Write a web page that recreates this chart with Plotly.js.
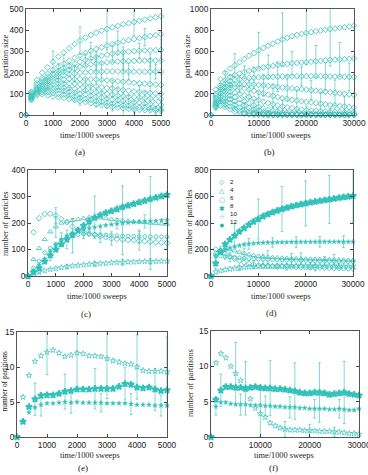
<!DOCTYPE html>
<html><head><meta charset="utf-8">
<script src="https://cdn.plot.ly/plotly-3.0.1.min.js"></script>
<style>html,body{margin:0;padding:0;background:#fff}#chart{width:368px;height:475px}</style>
</head><body><div id="chart"></div>
<script>
// ---------- x grids ----------
const xShort = [0,200,400,600,800,1000,1200,1400,1600,1800,2000,2200,2400,2600,2800,3000,3200,3400,3600,3800,4000,4200,4400,4600,4800,5000];
const xLong = [0,1000,2000,3000,4000,5000,6000,7000,8000,9000,10000,11000,12000,13000,14000,15000,16000,17000,18000,19000,20000,21000,22000,23000,24000,25000,26000,27000,28000,29000,30000];

// ---------- panel (a): partition sizes, short run ----------
const a1 = [0,110,165,200,225,252,276,296,315,336,352,366,378,389,399,407,415,421,429,434,440,446,451,457,462,467];
const a2 = [0,105,150,175,195,212,228,243,257,270,282,293,303,312,320,328,335,342,348,354,359,364,369,374,378,382];
const a3 = [0,100,140,165,180,195,208,220,232,242,252,260,267,274,280,285,290,294,297,300,302,304,305,306,307,308];
const a4 = [0,95,130,155,170,183,195,205,213,220,228,234,239,243,246,249,251,253,254,255,256,257,257,258,258,258];
const a5 = [0,90,125,145,160,172,180,187,192,196,200,202,204,205,205,206,206,206,206,206,205,205,205,205,205,205];
const a6 = [0,88,120,138,150,160,165,168,170,170,170,170,169,168,166,164,162,160,157,155,152,150,148,146,144,142];
const a7 = [0,85,115,130,140,145,148,149,149,148,145,142,139,136,132,128,125,122,118,115,112,109,106,104,102,100];
const a8 = [0,82,110,122,128,130,130,129,127,124,120,116,112,108,104,100,96,92,89,86,84,82,80,78,76,75];
const a9 = [0,78,105,115,118,118,117,114,110,106,100,96,91,86,82,78,74,70,66,63,60,57,54,52,50,47];
const a10 = [0,75,100,108,108,104,100,96,91,86,81,76,71,66,62,58,54,50,46,43,40,37,34,31,29,27];
const a11 = [0,70,93,98,93,88,84,80,76,71,66,61,56,51,47,43,39,35,32,29,27,25,23,22,21,20];
// error bars: [time, half-width]
const aErr = [
  [[1000,50],[2000,65],[3000,100],[4000,65]],
  [[1400,40],[2400,40],[3400,55],[4400,40]],
  [[1200,35],[2200,30],[3200,40],[4200,35],[5000,50]],
  [[1600,30],[2600,35],[3600,45],[4600,30]],
  [[1800,40],[2800,45],[3800,40],[4800,35]],
  [[800,25],[2600,130],[3600,165],[4600,120]],
  [[1200,25],[2200,30],[3200,40],[4200,30]],
  [[1400,25],[2400,30],[3400,35],[4400,30]],
  [[1600,20],[2800,30],[3800,30],[5000,25]],
  [[1800,20],[3000,25],[4000,25]],
  [[2000,20],[3200,20],[4800,20]]
];

// ---------- panel (b): partition sizes, long run ----------
const b1 = [0,240,340,400,440,470,500,530,560,585,612,635,655,675,695,715,730,745,757,767,776,784,792,799,806,812,818,824,831,838,845];
const b2 = [0,200,280,330,360,378,392,405,417,428,440,450,458,466,473,479,484,489,493,497,500,504,508,512,516,520,523,526,529,532,535];
const b3 = [0,180,260,300,320,330,338,344,350,353,356,358,360,361,362,363,364,365,366,366,367,367,366,366,365,364,363,362,361,360,360];
const b4 = [0,160,240,270,285,290,292,292,290,288,285,280,275,270,265,260,255,251,247,244,240,235,230,225,220,215,210,205,200,195,190];
const b5 = [0,140,220,250,260,262,258,250,240,228,215,203,192,180,170,160,152,144,137,130,124,118,112,106,100,95,90,85,80,75,70];
const b6 = [0,125,200,220,220,212,200,186,170,155,140,126,113,101,90,80,71,63,56,50,45,41,38,35,33,31,29,28,27,26,25];
const b7 = [0,110,170,190,185,170,150,130,110,92,76,62,50,40,32,26,21,17,14,12,10,9,8,8,7,7,7,6,6,6,6];
const b8 = [0,100,150,160,150,130,108,86,66,50,37,27,20,15,11,8,6,5,4,3,3,2,2,2,2,2,2,2,2,2,2];
const b9 = [0,90,130,130,115,92,70,51,36,25,17,11,7,5,3,2,2,1,1,1,1,1,1,1,1,1,1,1,1,1,1];
const b10 = [0,80,110,100,80,58,40,26,16,10,6,4,2,1,1,1,0,0,0,0,0,0,0,0,0,0,0,0,0,0,0];
const b11 = [0,70,90,75,52,32,18,10,5,3,2,1,0,0,0,0,0,0,0,0,0,0,0,0,0,0,0,0,0,0,0];
const bErr = [
  [[5000,110],[10000,170],[15000,250],[20000,300],[25000,350]],
  [[3000,80],[7000,60],[12000,110],[17000,110],[22000,150],[27000,160]],
  [[4000,60],[9000,100],[14000,140],[19000,90],[24000,130],[29000,130]],
  [[6000,80],[11000,100],[16000,120],[21000,90],[26000,120]],
  [[2000,80],[8000,90],[13000,110],[18000,100],[23000,110],[28000,90]],
  [[4000,60],[10000,80],[15000,60],[20000,40],[25000,30]],
  [[3000,50],[9000,50],[14000,30],[21000,20]],
  [[2000,40],[7000,30],[12000,20]],
  [[1000,40],[5000,30]],
  [[3000,30]],
  []
];

// ---------- panel (c),(d): number of particles per species ----------
const species = ['2','4','6','8','10','12'];
const c2 = [0,165,218,234,235,228,215,203,186,175,166,160,155,150,146,142,140,138,136,135,133,131,129,127,126,125];
const c4 = [0,63,104,138,167,186,200,205,210,214,218,221,222,220,217,214,212,210,208,206,204,202,200,199,197,196];
const c6 = [0,30,55,88,105,120,135,146,152,156,158,158,157,156,155,153,152,151,150,150,149,149,148,148,148,148];
const c8 = [0,20,40,65,92,118,138,152,162,169,175,180,184,188,191,194,197,199,201,203,205,206,207,208,210,211];
const c10 = [0,10,15,20,25,28,32,35,38,40,42,44,46,47,48,50,51,52,53,53,54,55,55,55,56,56];
const c12 = [0,15,30,55,78,100,120,138,155,172,190,206,220,230,238,245,252,260,266,272,278,284,290,296,301,306];
const cErr = [
  [[1000,30],[2000,25],[3000,25],[4000,35],[5000,20]],
  [[1000,40],[2400,80],[3400,130],[4400,175]],
  [[1600,65],[2600,30],[4000,25]],
  [[1200,25],[2200,20],[3200,20],[4200,25]],
  [[1400,8],[2400,10],[3400,12],[4400,10]],
  [[400,20],[800,20],[1400,35],[2200,15]]
];
const d2 = [0,200,190,168,148,130,115,102,92,85,80,77,75,73,72,71,70,69,68,67,66,65,64,63,62,61,60,59,58,57,56];
const d4 = [0,175,195,205,200,190,180,170,162,155,150,146,143,140,138,136,134,132,131,130,129,128,127,126,125,124,123,122,121,120,120];
const d6 = [0,150,150,146,143,140,137,134,131,129,127,125,124,123,122,121,120,119,118,117,116,115,114,113,112,111,110,110,109,108,108];
const d8 = [0,150,180,200,212,222,230,237,242,246,249,251,252,253,254,255,255,256,256,257,257,257,257,258,258,258,258,258,258,258,258];
const d10 = [0,30,40,47,53,58,62,65,68,70,72,73,74,75,75,76,76,76,76,76,76,76,76,75,75,75,75,75,74,74,74];
const d12 = [0,95,180,240,275,305,335,362,387,410,430,450,466,480,493,505,515,525,533,541,548,555,561,567,573,578,584,590,595,600,605];
const dErr = [
  [[3000,40],[9000,30],[16000,25],[22000,25]],
  [[2000,30],[7000,40],[12000,50],[19000,45],[26000,40]],
  [[4000,35],[11000,35],[17000,50],[24000,35]],
  [[8000,40],[13000,35],[18000,40],[23000,40],[28000,45]],
  [[6000,20],[14000,20],[21000,25],[27000,20]],
  [[1000,40],[5000,90],[10000,150],[15000,170],[20000,170],[25000,180],[30000,200]]
];

// ---------- panel (e),(f): number of partitions ----------
const eOpen = [0,5.7,8.8,10.8,11.6,12.1,12.4,12.0,11.5,11.7,12.0,11.9,11.6,11.6,11.5,11.2,10.9,10.7,10.5,10.4,10.0,9.5,9.4,9.4,9.4,9.3];
const eBig = [0,2.2,4.3,5.4,5.9,6.0,6.0,6.2,6.5,6.6,6.8,6.8,6.8,6.9,6.9,6.9,6.9,7.2,7.6,7.5,7.1,7.0,7.1,6.8,6.6,6.7];
const eSmall = [0,2.1,3.5,4.2,4.6,4.8,4.8,4.9,5.0,4.9,5.0,4.9,4.9,4.9,4.9,4.8,4.8,4.8,4.8,4.7,4.6,4.6,4.6,4.5,4.5,4.5];
const eErr = [
  [[1000,3.2],[2000,4.8],[3000,5.7],[4000,4.6],[5000,5]],
  [[600,2.3],[1600,2.5],[2600,2.9],[3600,2.3],[4600,3]],
  [[800,1.6],[1800,1.5],[2800,1.3],[3800,1.5],[4800,1.5]]
];
const fOpen = [0,10.5,11.8,11.2,10.0,9.0,8.0,6.7,5.4,4.1,3.3,2.8,2.0,1.6,1.3,1.1,1.0,1.0,1.0,0.9,0.9,0.9,0.8,0.8,0.8,0.7,0.7,0.6,0.5,0.5,0.4];
const fBig = [0,5.3,6.6,7.1,7.1,7.0,7.0,6.9,7.0,7.1,7.0,6.9,6.9,6.8,6.8,6.7,6.6,6.5,6.3,6.2,6.2,6.3,6.3,6.2,6.0,6.1,6.2,6.3,6.1,6.0,5.9];
const fSmall = [0,4.3,4.9,4.9,4.7,4.6,4.6,4.6,4.5,4.5,4.5,4.4,4.4,4.3,4.3,4.2,4.2,4.2,4.1,4.1,4.0,4.0,4.0,4.0,3.9,3.9,4.0,3.9,3.8,3.8,4.0];
const fErr = [
  [[5000,4.4],[10000,3.3],[15000,1.1],[20000,0.9],[25000,0.7]],
  [[2000,2.3],[7000,3.8],[12000,3.9],[17000,4.0],[22000,4.2],[27000,4.4]],
  [[1000,1.2],[6000,1.5],[11000,1.4],[16000,1.5],[21000,1.3],[26000,1.3]]
];

// ---------- styling ----------
const C = '#33c2ba';
const CE = 'rgba(51,194,186,0.6)';
const SERIF = 'Liberation Serif, DejaVu Serif, serif';
const SANS = 'Liberation Sans, Arial, sans-serif';

function errArr(xs, pairs){
  const m = new Map(pairs);
  return xs.map(x => m.has(x) ? m.get(x) : NaN);
}
const sym = {
  dia:   {symbol:'diamond-open', size:4.4, color:C, line:{width:0.8, color:C}},
  tri:   {symbol:'triangle-up-open', size:4.6, color:C, line:{width:0.8, color:C}},
  circ:  {symbol:'circle-open', size:3.8, color:C, line:{width:0.8, color:C}},
  small: {symbol:'star', size:3.6, color:C, line:{width:0.5, color:C}},
  ostar: {symbol:'star-open', size:4.3, color:C, line:{width:0.7, color:C}},
  big:   {symbol:'star', size:4.8, color:C, line:{width:1.7, color:C}}
};
const traces = [];
function add(xs, ys, errs, marker, xa, ya){
  traces.push({type:'scatter', mode:'markers', x:xs, y:ys, xaxis:xa, yaxis:ya,
    marker:marker, cliponaxis:false, showlegend:false, hoverinfo:'skip',
    error_y:{type:'data', array:errArr(xs, errs), color:CE, thickness:1, width:1.5}});
}
[a1,a2,a3,a4,a5,a6,a7,a8,a9,a10,a11].forEach((s,i)=>add(xShort, s, aErr[i], sym.dia, 'x', 'y'));
[b1,b2,b3,b4,b5,b6,b7,b8,b9,b10,b11].forEach((s,i)=>add(xLong, s, bErr[i], sym.dia, 'x2', 'y2'));
const specSyms = [sym.dia, sym.tri, sym.circ, sym.small, sym.ostar, sym.big];
[c2,c4,c6,c8,c10,c12].forEach((s,i)=>add(xShort, s, cErr[i], specSyms[i], 'x3', 'y3'));
[d2,d4,d6,d8,d10,d12].forEach((s,i)=>add(xLong, s, dErr[i], specSyms[i], 'x4', 'y4'));
[eOpen,eBig,eSmall].forEach((s,i)=>add(xShort, s, eErr[i], [sym.ostar, sym.big, sym.small][i], 'x5', 'y5'));
[fOpen,fBig,fSmall].forEach((s,i)=>add(xLong, s, fErr[i], [sym.ostar, sym.big, sym.small][i], 'x6', 'y6'));

function ax(domain, anchor, range, dtick){
  return {domain:domain, anchor:anchor, range:range, tickmode:'linear', tick0:0, dtick:dtick,
    tickformat:'d', exponentformat:'none', ticklabeloverflow:'allow',
    ticks:'inside', ticklen:3, tickwidth:1, tickcolor:'#444', showline:true, linecolor:'#555', linewidth:1,
    mirror:'ticks', showgrid:false, zeroline:false,
    tickfont:{family:SANS, size:8.3, color:'#222'}};
}
const W = 368, H = 475;
const px = v => v / W, py = v => 1 - v / H;
const dom = {
  a:{x:[26,161], y:[9.3,115]}, b:{x:[211,354], y:[9.3,115]},
  c:{x:[28,167], y:[170,276]}, d:{x:[211,353], y:[170,276]},
  e:{x:[17,167], y:[332,437]}, f:{x:[211,359], y:[331,437]}
};
const dx = k => [px(dom[k].x[0]), px(dom[k].x[1])];
const dy = k => [py(dom[k].y[1]), py(dom[k].y[0])];

const layout = {
  width:W, height:H, margin:{l:0,r:0,t:0,b:0}, paper_bgcolor:'#fff', plot_bgcolor:'#fff',
  showlegend:false,
  xaxis: ax(dx('a'),'y',[0,5000],1000),  yaxis: ax(dy('a'),'x',[0,500],100),
  xaxis2:ax(dx('b'),'y2',[0,30000],10000), yaxis2:ax(dy('b'),'x2',[0,1000],200),
  xaxis3:ax(dx('c'),'y3',[0,5000],1000),  yaxis3:ax(dy('c'),'x3',[0,400],100),
  xaxis4:ax(dx('d'),'y4',[0,30000],10000), yaxis4:ax(dy('d'),'x4',[0,800],200),
  xaxis5:ax(dx('e'),'y5',[0,5000],1000),  yaxis5:ax(dy('e'),'x5',[0,15],5),
  xaxis6:ax(dx('f'),'y6',[0,30000],10000), yaxis6:ax(dy('f'),'x6',[0,15],5),
  annotations:[]
};
function txt(x, y, t, size, rot, font, color, xanchor, yanchor){
  layout.annotations.push({xref:'paper', yref:'paper', x:px(x), y:py(y), text:t, showarrow:false,
    textangle:rot||0, xanchor:xanchor||'center', yanchor:yanchor||'middle', align:'left',
    font:{family:font||SERIF, size:size, color:color||'#222'}});
}
// x-axis titles and captions
const xTitle = 'time/1000 sweeps';
txt(90,135,xTitle,8.3); txt(281,135,xTitle,8.3);
txt(97,296,xTitle,8.3); txt(281,296,xTitle,8.3);
txt(90,455,xTitle,8.3); txt(284,455,xTitle,8.3);
txt(80,152,'(a)',9); txt(269,152,'(b)',9);
txt(86,314,'(c)',9); txt(271,313,'(d)',9);
txt(83,468,'(e)',9); txt(273,468,'(f)',9);
// y-axis titles
txt(5,57,'partition size',8.3,-90); txt(187,57,'partition size',8.3,-90);
txt(5,224,'number of particles',8.3,-90); txt(189,222,'number of particles',8.3,-90);
txt(3.5,382,'number of partitions',7.4,-90); txt(190,383,'number of partitions',8.3,-90);
// legend of panel (d): glyph column and label column
const legGlyph = ['◇','△','○','✱','☆','✸'];
txt(222, 176, legGlyph.join('<br>'), 6.8, 0, 'DejaVu Sans', '#1fb3aa', 'center', 'top');
txt(227.5, 176, species.join('<br>'), 6.2, 0, SANS, '#222', 'left', 'top');

Plotly.newPlot('chart', traces, layout, {staticPlot:true, displayModeBar:false});
</script></body></html>
